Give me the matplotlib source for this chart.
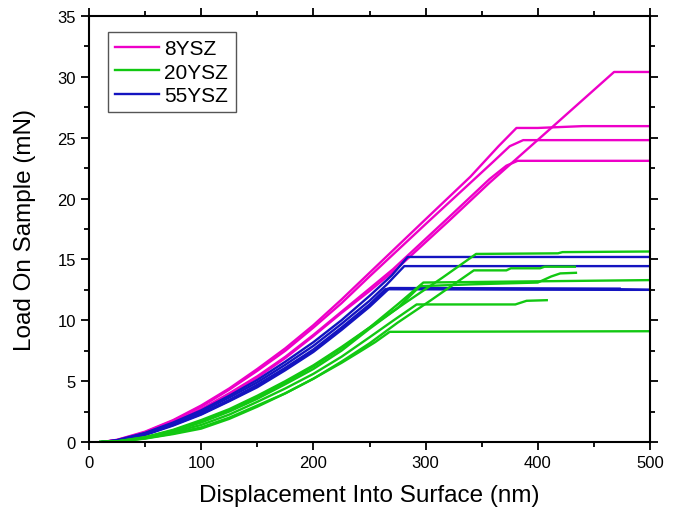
import matplotlib
matplotlib.use("Agg")
import matplotlib.pyplot as plt
from matplotlib.ticker import MultipleLocator
from matplotlib.lines import Line2D

# ----------------------------------------------------------------------
# Curvas (deslocamento em nm, carga em mN)
# ----------------------------------------------------------------------
# 8YSZ (magenta)
m1_x = [12, 25, 50, 75, 100, 125, 150, 175, 200, 225, 250, 300, 340, 365, 381, 400, 440, 500]
m1_y = [0, 0.18, 0.85, 1.8, 3.0, 4.4, 6.0, 7.7, 9.6, 11.7, 13.9, 18.3, 21.8, 24.3, 25.8, 25.8, 25.95, 25.95]
m2_x = [12, 25, 50, 75, 100, 125, 150, 175, 200, 225, 250, 300, 340, 360, 375, 387, 500]
m2_y = [0, 0.16, 0.8, 1.75, 2.9, 4.3, 5.85, 7.5, 9.4, 11.4, 13.6, 17.9, 21.3, 23.0, 24.3, 24.8, 24.8]
m3_x = [12, 25, 50, 75, 100, 125, 150, 175, 200, 225, 250, 271, 320, 357, 372, 382, 500]
m3_y = [0, 0.14, 0.75, 1.6, 2.7, 4.0, 5.4, 7.0, 8.8, 10.7, 12.6, 14.2, 18.4, 21.6, 22.7, 23.1, 23.1]
m4_x = [12, 25, 50, 75, 100, 125, 150, 175, 200, 225, 250, 275, 320, 357, 412, 468, 500]
m4_y = [0, 0.14, 0.72, 1.55, 2.65, 3.9, 5.3, 6.9, 8.7, 10.6, 12.4, 14.3, 18.1, 21.3, 25.8, 30.4, 30.4]

# 55YSZ (azul)
b1_x = [12, 25, 50, 75, 100, 125, 150, 175, 200, 225, 250, 270, 284, 500]
b1_y = [0, 0.15, 0.75, 1.6, 2.6, 3.8, 5.1, 6.6, 8.2, 10.0, 12.0, 13.7, 15.2, 15.2]
b2_x = [12, 25, 50, 75, 100, 125, 150, 175, 200, 225, 250, 265, 281, 500]
b2_y = [0, 0.13, 0.7, 1.5, 2.5, 3.65, 4.9, 6.35, 7.9, 9.7, 11.6, 12.9, 14.45, 14.45]
b3_x = [12, 25, 50, 75, 100, 125, 150, 175, 200, 225, 250, 266, 473, 500]
b3_y = [0, 0.1, 0.6, 1.4, 2.3, 3.4, 4.6, 6.0, 7.5, 9.3, 11.2, 12.6, 12.55, 12.5]
b4_x = [12, 25, 50, 75, 100, 125, 150, 175, 200, 225, 250, 264, 473, 500]
b4_y = [0, 0.1, 0.62, 1.42, 2.35, 3.45, 4.7, 6.1, 7.6, 9.4, 11.3, 12.55, 12.5, 12.5]
b5_x = [12, 25, 50, 75, 100, 125, 150, 175, 200, 225, 250, 268, 473]
b5_y = [0, 0.1, 0.58, 1.35, 2.25, 3.35, 4.5, 5.9, 7.4, 9.2, 11.1, 12.65, 12.6]

# 20YSZ (verde)
g1_x = [10, 25, 50, 75, 100, 125, 150, 175, 200, 225, 250, 283, 315, 345, 418, 422, 500]
g1_y = [0, 0.05, 0.4, 1.0, 1.8, 2.7, 3.8, 5.0, 6.3, 7.8, 9.4, 11.5, 13.5, 15.45, 15.5, 15.6, 15.65]
g2_x = [10, 25, 50, 75, 100, 125, 150, 175, 200, 225, 250, 275, 304, 343, 372, 376, 402, 406, 433]
g2_y = [0, 0.03, 0.3, 0.7, 1.2, 2.0, 3.0, 4.0, 5.2, 6.6, 8.1, 9.8, 11.6, 14.1, 14.1, 14.27, 14.27, 14.4, 14.4]
g3_x = [10, 25, 50, 75, 100, 125, 150, 175, 200, 225, 250, 275, 298, 500]
g3_y = [0, 0.05, 0.38, 0.95, 1.7, 2.6, 3.7, 4.9, 6.2, 7.7, 9.4, 11.3, 13.1, 13.3]
g4_x = [10, 25, 50, 75, 100, 125, 150, 175, 200, 225, 250, 275, 295, 340, 400, 412, 420, 434]
g4_y = [0, 0.04, 0.35, 0.9, 1.6, 2.5, 3.55, 4.75, 6.0, 7.5, 9.3, 11.0, 12.8, 12.95, 13.1, 13.6, 13.85, 13.9]
g5_x = [10, 25, 50, 75, 100, 125, 150, 175, 200, 225, 250, 270, 292, 380, 390, 408]
g5_y = [0, 0.04, 0.32, 0.8, 1.4, 2.25, 3.3, 4.4, 5.6, 7.0, 8.6, 9.9, 11.3, 11.3, 11.6, 11.65]
g6_x = [10, 25, 50, 75, 100, 125, 150, 175, 200, 225, 241, 255, 268, 500]
g6_y = [0, 0.03, 0.28, 0.65, 1.1, 1.9, 2.9, 4.0, 5.2, 6.5, 7.4, 8.2, 9.05, 9.1]

curvas_8ysz = [(m1_x, m1_y), (m2_x, m2_y), (m3_x, m3_y), (m4_x, m4_y)]
curvas_55ysz = [(b1_x, b1_y), (b2_x, b2_y), (b3_x, b3_y), (b4_x, b4_y), (b5_x, b5_y)]
curvas_20ysz = [(g1_x, g1_y), (g2_x, g2_y), (g3_x, g3_y), (g4_x, g4_y), (g5_x, g5_y), (g6_x, g6_y)]

COR_8 = "#EE00C8"
COR_20 = "#12C812"
COR_55 = "#1414C0"

plt.rcParams["font.family"] = ["Liberation Sans", "DejaVu Sans"]

fig = plt.figure(figsize=(6.76, 5.10), dpi=100)
ax = fig.add_axes([0.1317, 0.1314, 0.8298, 0.8353])

for x, y in curvas_8ysz:
    ax.plot(x, y, color=COR_8, lw=1.7)
for x, y in curvas_55ysz:
    ax.plot(x, y, color=COR_55, lw=1.7)
for x, y in curvas_20ysz:
    ax.plot(x, y, color=COR_20, lw=1.7)

ax.set_xlim(0, 500)
ax.set_ylim(0, 35)
ax.xaxis.set_major_locator(MultipleLocator(100))
ax.xaxis.set_minor_locator(MultipleLocator(50))
ax.yaxis.set_major_locator(MultipleLocator(5))
ax.yaxis.set_minor_locator(MultipleLocator(2.5))
ax.tick_params(which="both", direction="out", top=True, right=True, width=1.3, labelsize=12)
ax.tick_params(which="major", length=6)
ax.tick_params(which="minor", length=3.5)
for s in ax.spines.values():
    s.set_linewidth(1.5)

ax.set_xlabel("Displacement Into Surface (nm)", fontsize=17.5, labelpad=10)
ax.set_ylabel("Load On Sample (mN)", fontsize=17.5, labelpad=15)

handles = [Line2D([], [], color=COR_8, lw=1.7),
           Line2D([], [], color=COR_20, lw=1.7),
           Line2D([], [], color=COR_55, lw=1.7)]
leg = ax.legend(handles, ["8YSZ", "20YSZ", "55YSZ"], loc="upper left",
                bbox_to_anchor=(0.034, 0.962), borderaxespad=0, fontsize=15,
                fancybox=False, edgecolor="#555555", handlelength=2.1,
                handletextpad=0.25, labelspacing=0.2, borderpad=0.35, framealpha=1)
leg.get_frame().set_linewidth(1.0)

fig.savefig("out.png", dpi=100)
